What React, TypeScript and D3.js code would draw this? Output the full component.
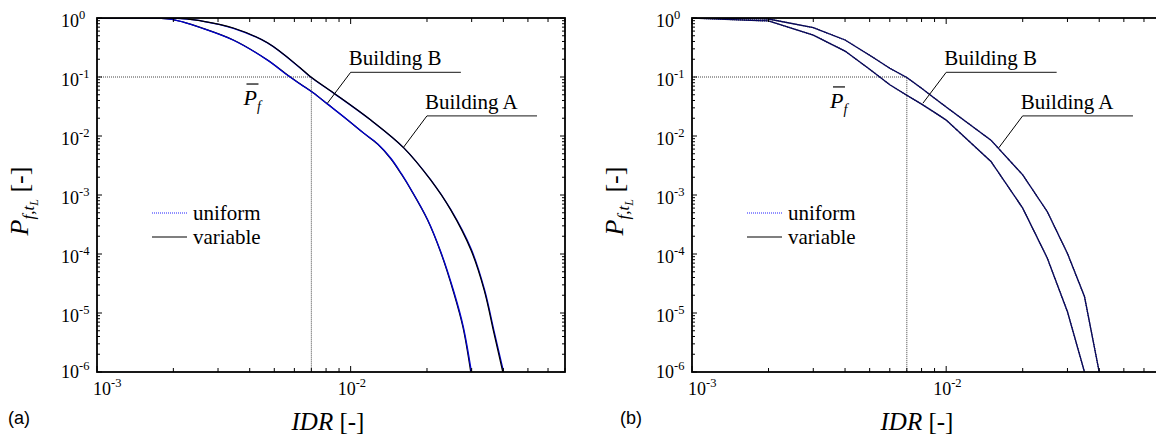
import React from 'react';
import * as d3 from 'd3';

// ---- data ----
const X_DOMAIN: [number, number] = [0.001, 0.07];
const Y_DOMAIN: [number, number] = [1e-6, 1];
const X_MAJOR = [0.001, 0.01];
const X_MAJOR_EXP = ['-3', '-2'];
const Y_MAJOR = [1, 0.1, 0.01, 0.001, 1e-4, 1e-5, 1e-6];
const Y_MAJOR_EXP = ['0', '-1', '-2', '-3', '-4', '-5', '-6'];
const LEGEND_LABELS = ['uniform', 'variable'];
const BUILDING_LABELS = ['Building B', 'Building A'];
const PF_REF = 0.1;
const IDR_REF = 0.007;

// panel (a): smooth simulated curves
const A_BLDG_B_VARIABLE: [number, number][] = [
  [0.001, 1], [0.0017, 1], [0.00195, 0.96], [0.00219, 0.85], [0.00255, 0.695], [0.00345, 0.424],
  [0.0047, 0.194], [0.00564, 0.108], [0.00634, 0.076], [0.00714, 0.0536], [0.00811, 0.0348],
  [0.00973, 0.0187], [0.01125, 0.0112], [0.0128, 0.0072], [0.0144, 0.0041], [0.0159, 0.0022], [0.0173, 0.00122], [0.0201, 3.77e-4],
  [0.0227, 1.04e-4], [0.0255, 2.18e-5], [0.0277, 5.8e-6], [0.0298, 9.5e-7],
];
const A_BLDG_B_UNIFORM: [number, number][] = [
  [0.001, 1], [0.0017, 1], [0.00195, 0.96], [0.00219, 0.85], [0.00255, 0.69], [0.00345, 0.42],
  [0.0047, 0.193], [0.00564, 0.107], [0.00634, 0.0755], [0.00714, 0.0534], [0.00811, 0.0347],
  [0.00973, 0.0187], [0.01125, 0.0112], [0.0128, 0.0073], [0.0144, 0.0042], [0.0159, 0.00225], [0.0173, 0.00124], [0.0201, 3.85e-4],
  [0.0227, 1.07e-4], [0.0256, 2.2e-5], [0.0278, 5.9e-6], [0.03, 9.5e-7],
];
const A_BLDG_A_VARIABLE: [number, number][] = [
  [0.001, 1], [0.002, 1], [0.00228, 0.96], [0.00255, 0.9], [0.00345, 0.676], [0.0047, 0.38],
  [0.00634, 0.142], [0.00695, 0.101], [0.00857, 0.0537], [0.012, 0.0187], [0.0162, 0.0063],
  [0.0207, 0.00178], [0.0248, 5.6e-4], [0.0298, 1.17e-4], [0.0336, 2.45e-5], [0.0367, 4.6e-6],
  [0.0399, 9.5e-7],
];
const A_BLDG_A_UNIFORM: [number, number][] = [
  [0.001, 1], [0.002, 1], [0.00228, 0.96], [0.00255, 0.9], [0.00345, 0.67], [0.0047, 0.378],
  [0.00634, 0.141], [0.00695, 0.1], [0.00857, 0.0533], [0.012, 0.0186], [0.0162, 0.0063],
  [0.0207, 0.0018], [0.0248, 5.7e-4], [0.0299, 1.2e-4], [0.0337, 2.5e-5], [0.0369, 4.6e-6],
  [0.0402, 9.5e-7],
];

// panel (b): piecewise-linear curves
const B_IDR = [0.001, 0.002, 0.003, 0.004, 0.005, 0.006, 0.007, 0.008, 0.009, 0.01, 0.015, 0.02, 0.025, 0.03, 0.035, 0.04];
const B_BLDG_A = [1, 0.962, 0.686, 0.424, 0.234, 0.141, 0.098, 0.0646, 0.0437, 0.031, 0.0085, 0.0022, 5.2e-4, 1.02e-4, 1.9e-5, 1e-6];
const B_BLDG_B = [1, 0.891, 0.513, 0.275, 0.135, 0.074, 0.049, 0.0347, 0.0251, 0.0186, 0.0037, 6.0e-4, 8.5e-5, 1.05e-5, 1e-6, 1e-7];

// annotation anchors (data coordinates)
const LABEL_B_ANCHOR = { x0: 0.01, x1: 0.0272, y: 0.12, tipX: 0.0081, tipY: 0.036 };
const LABEL_A_ANCHOR = { x0: 0.02, x1: 0.0543, y: 0.022, tipX: 0.0161, tipY: 0.0063 };

const SERIF = "'Liberation Serif', 'Times New Roman', serif";
const SANS = "'Liberation Sans', Arial, sans-serif";

type Series = { data: [number, number][]; kind: 'uniform' | 'variable' };

interface PanelProps {
  left: number; right: number; top: number; bottom: number;
  tag: string; tagX: number; xTitleX: number;
  pbar: [number, number];
  series: Series[];
  curve: d3.CurveFactory;
  id: string;
}

function Panel(p: PanelProps) {
  const x = d3.scaleLog().domain(X_DOMAIN).range([p.left, p.right]);
  const y = d3.scaleLog().domain(Y_DOMAIN).range([p.bottom, p.top]);
  const line = d3.line<[number, number]>().x(d => x(d[0])).y(d => y(d[1])).curve(p.curve);

  const xTicks: { v: number; major: boolean }[] = [];
  for (const dec of [0.001, 0.01]) for (let k = 1; k <= 9; k++) {
    const v = k * dec;
    if (v <= X_DOMAIN[1] * 1.0001) xTicks.push({ v, major: k === 1 });
  }
  const yTicks: { v: number; major: boolean }[] = [];
  for (let e = -6; e <= 0; e++) for (let k = 1; k <= 9; k++) {
    const v = k * Math.pow(10, e);
    if (v <= 1.0001) yTicks.push({ v, major: k === 1 });
  }

  const uniformStyle = p.id === 'a'
    ? { stroke: '#0000cc', strokeWidth: 1.3 }
    : { stroke: '#00007a', strokeWidth: 1.3, strokeDasharray: '1,1' };
  const variableStyle = p.id === 'a'
    ? { stroke: '#000', strokeWidth: 1.2 }
    : { stroke: '#10103a', strokeWidth: 1.3 };

  const lg = p.left + 55;
  const ann = [LABEL_B_ANCHOR, LABEL_A_ANCHOR];

  return (
    <g>
      <defs>
        <clipPath id={`clip-${p.id}`}>
          <rect x={p.left} y={p.top} width={p.right - p.left} height={p.bottom - p.top} />
        </clipPath>
      </defs>
      {/* reference dotted lines */}
      <path d={`M${x(X_DOMAIN[0])},${y(PF_REF)}H${x(IDR_REF)}V${y(Y_DOMAIN[0])}`}
        fill="none" stroke="#444" strokeWidth={1} strokeDasharray="1,1" />
      {/* curves */}
      <g clipPath={`url(#clip-${p.id})`}>
        {p.series.map((s, i) => (
          <path key={i} d={line(s.data) || ''} fill="none"
            {...(s.kind === 'uniform' ? uniformStyle : variableStyle)} />
        ))}
      </g>
      {/* frame */}
      <rect x={p.left} y={p.top} width={p.right - p.left} height={p.bottom - p.top}
        fill="none" stroke="#000" strokeWidth={1.8} />
      {/* ticks */}
      {xTicks.map((t, i) => (
        <g key={'xt' + i}>
          <line x1={x(t.v)} x2={x(t.v)} y1={p.bottom} y2={p.bottom - (t.major ? 6 : 4)} stroke="#000" strokeWidth={1} />
          <line x1={x(t.v)} x2={x(t.v)} y1={p.top} y2={p.top + (t.major ? 6 : 4)} stroke="#000" strokeWidth={1} />
        </g>
      ))}
      {yTicks.map((t, i) => (
        <g key={'yt' + i}>
          <line x1={p.left} x2={p.left + (t.major ? 5 : 3)} y1={y(t.v)} y2={y(t.v)} stroke="#000" strokeWidth={1} />
          <line x1={p.right} x2={p.right - (t.major ? 5 : 3)} y1={y(t.v)} y2={y(t.v)} stroke="#000" strokeWidth={1} />
        </g>
      ))}
      {/* tick labels */}
      {Y_MAJOR.map((v, i) => (
        <text key={'yl' + i} x={p.left - 36} y={y(v) + (i === Y_MAJOR.length - 1 ? 6 : 9)}
          fontFamily={SERIF} fontSize={18} fill="#000">
          10<tspan dy={-8} fontSize={12.5}>{Y_MAJOR_EXP[i]}</tspan>
        </text>
      ))}
      {X_MAJOR.map((v, i) => (
        <text key={'xl' + i} x={Math.max(x(v) - 13, p.left - 4)} y={p.bottom + 23}
          fontFamily={SERIF} fontSize={18} fill="#000">
          10<tspan dy={-8} fontSize={12.5}>{X_MAJOR_EXP[i]}</tspan>
        </text>
      ))}
      {/* axis titles */}
      <text x={p.xTitleX} y={430} textAnchor="middle" fontFamily={SERIF} fontSize={25} fill="#000">
        <tspan fontStyle="italic">IDR</tspan> [-]
      </text>
      <text transform={`translate(${p.left - 69},201) rotate(-90)`} textAnchor="middle"
        fontFamily={SERIF} fontSize={26} fill="#000">
        <tspan fontStyle="italic">P</tspan>
        <tspan fontStyle="italic" fontSize={17} dy={6}>f,t</tspan>
        <tspan fontStyle="italic" fontSize={12} dy={4}>L</tspan>
        <tspan dy={-10}>{'\u00a0[-]'}</tspan>
      </text>
      <text x={p.tagX} y={424} fontFamily={SANS} fontSize={18} fill="#000">{p.tag}</text>
      {/* P bar f */}
      <text x={x(p.pbar[0])} y={y(p.pbar[1])} fontFamily={SERIF} fontSize={22} fontStyle="italic" fill="#000">
        P<tspan fontSize={14} dy={6}>f</tspan>
      </text>
      <line x1={x(p.pbar[0]) + 3} x2={x(p.pbar[0]) + 15} y1={y(p.pbar[1]) - 21} y2={y(p.pbar[1]) - 21}
        stroke="#000" strokeWidth={1.2} />
      {/* building labels */}
      {ann.map((a, i) => (
        <g key={'ann' + i}>
          <line x1={x(a.x0)} x2={x(a.x1)} y1={y(a.y)} y2={y(a.y)} stroke="#444" strokeWidth={1.2} />
          <line x1={x(a.x0)} x2={x(a.tipX)} y1={y(a.y)} y2={y(a.tipY)} stroke="#000" strokeWidth={1} />
          <text x={x(a.x0) - 2} y={y(a.y) - 7} fontFamily={SERIF} fontSize={21} fill="#000">{BUILDING_LABELS[i]}</text>
        </g>
      ))}
      {/* legend */}
      <line x1={lg} x2={lg + 35} y1={213} y2={213} stroke="#2222ff" strokeWidth={1.2} strokeDasharray="1,1" />
      <text x={lg + 41} y={220} fontFamily={SERIF} fontSize={21} fill="#000">{LEGEND_LABELS[0]}</text>
      <line x1={lg} x2={lg + 35} y1={237} y2={237} stroke="#000" strokeWidth={1.2} />
      <text x={lg + 41} y={244} fontFamily={SERIF} fontSize={21} fill="#000">{LEGEND_LABELS[1]}</text>
    </g>
  );
}

export default function App() {
  const bA: [number, number][] = B_IDR.map((v, i) => [v, B_BLDG_A[i]]);
  const bB: [number, number][] = B_IDR.map((v, i) => [v, B_BLDG_B[i]]);
  return (
    <svg width={1156} height={435} style={{ position: 'absolute', left: 0, top: 0, background: '#fff' }}>
      <rect x={0} y={0} width={1156} height={435} fill="#fff" />
      <Panel id="a" left={97} right={565} top={18} bottom={372} tag="(a)" tagX={8} xTitleX={328}
        pbar={[0.00378, 0.0335]} curve={d3.curveCatmullRom.alpha(0.5)}
        series={[
          { data: A_BLDG_B_VARIABLE, kind: 'variable' },
          { data: A_BLDG_B_UNIFORM, kind: 'uniform' },
          { data: A_BLDG_A_UNIFORM, kind: 'uniform' },
          { data: A_BLDG_A_VARIABLE, kind: 'variable' },
        ]} />
      <Panel id="b" left={692} right={1161} top={18} bottom={372} tag="(b)" tagX={620} xTitleX={917}
        pbar={[0.00349, 0.0299]} curve={d3.curveLinear}
        series={[
          { data: bB, kind: 'variable' },
          { data: bB, kind: 'uniform' },
          { data: bA, kind: 'variable' },
          { data: bA, kind: 'uniform' },
        ]} />
    </svg>
  );
}
